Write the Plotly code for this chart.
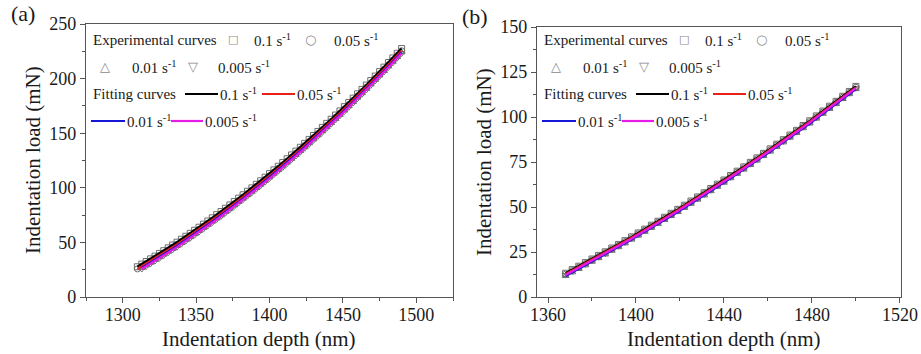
import plotly.graph_objects as go

# ---------------- data ----------------
RATES = ["0.1", "0.05", "0.01", "0.005"]

# panel (a)
DEPTH_A = [1310 + 3 * i for i in range(61)]
LOAD_A_01 = [27.7, 30.1, 32.5, 34.9, 37.4, 39.9, 42.4, 45.0, 47.6, 50.2,
             52.9, 55.6, 58.3, 61.1, 63.9, 66.7, 69.6, 72.5, 75.4, 78.3,
             81.3, 84.3, 87.4, 90.5, 93.6, 96.8, 99.9, 103.2, 106.4, 109.7,
             113.0,
             116.4, 119.7, 123.1, 126.6, 130.1, 133.6, 137.1, 140.7, 144.3, 147.9,
             151.6, 155.3, 159.0, 162.8, 166.6, 170.4, 174.3, 178.2, 182.1, 186.1,
             190.1, 194.1, 198.2, 202.3, 206.4, 210.5, 214.7, 218.9, 223.2, 227.5]
LOAD_A_005 = [25.7, 28.1, 30.5, 32.9, 35.4, 37.9, 40.4, 43.0, 45.6, 48.2,
              50.9, 53.6, 56.3, 59.1, 61.9, 64.7, 67.6, 70.5, 73.4, 76.3,
              79.3, 82.3, 85.4, 88.5, 91.6, 94.8, 97.9, 101.2, 104.4, 107.7,
              111.0,
              114.4, 117.7, 121.1, 124.6, 128.1, 131.6, 135.1, 138.7, 142.3, 145.9,
              149.6, 153.3, 157.0, 160.8, 164.6, 168.4, 172.3, 176.2, 180.1, 184.1,
              188.1, 192.1, 196.2, 200.3, 204.4, 208.5, 212.7, 216.9, 221.2, 225.5]
LOAD_A_001 = [26.6, 29.0, 31.4, 33.9, 36.4, 38.9, 41.5, 44.1, 46.7,
              49.4, 52.1, 54.8, 57.6, 60.4, 63.2, 66.1, 69.0, 71.9, 74.8,
              77.8, 80.8, 83.9, 87.0, 90.1, 93.3, 96.4, 99.7, 102.9, 106.2,
              109.5,
              112.9, 116.2, 119.6, 123.1, 126.6, 130.1, 133.6, 137.2, 140.8, 144.4,
              148.1, 151.8, 155.5, 159.3, 163.1, 166.9, 170.8, 174.7, 178.6, 182.6,
              186.6, 190.6, 194.7, 198.8, 202.9, 207.0, 211.2, 215.4, 219.7, 224.0]
LOAD_A_0005 = [25.6, 28.0, 30.4, 32.9, 35.4, 37.9, 40.5, 43.1, 45.7,
               48.4, 51.1, 53.8, 56.6, 59.4, 62.2, 65.1, 68.0, 70.9, 73.8,
               76.8, 79.8, 82.9, 86.0, 89.1, 92.3, 95.4, 98.7, 101.9, 105.2,
               108.5,
               111.9, 115.2, 118.6, 122.1, 125.6, 129.1, 132.6, 136.2, 139.8, 143.4,
               147.1, 150.8, 154.5, 158.3, 162.1, 165.9, 169.8, 173.7, 177.6, 181.6,
               185.6, 189.6, 193.7, 197.8, 201.9, 206.0, 210.2, 214.4, 218.7, 223.0]

# panel (b)
DEPTH_B = [1368 + 3 * i for i in range(45)]
LOAD_B_01 = [13.2, 15.2, 17.1, 19.1, 21.1, 23.1, 25.1, 27.2, 29.2, 31.3,
             33.4, 35.6, 37.7, 39.9, 42.1, 44.3, 46.5, 48.7, 51.0, 53.3,
             55.6, 57.9, 60.3, 62.7, 65.0, 67.5, 69.9, 72.3, 74.8, 77.3,
             79.8, 82.3, 84.9, 87.4, 90.0, 92.6, 95.3, 97.9, 100.6, 103.3,
             106.0, 108.7, 111.5, 114.2, 117.0]
LOAD_B_005 = [12.7, 14.7, 16.6, 18.6, 20.6, 22.6, 24.6, 26.7, 28.7, 30.8,
              32.9, 35.1, 37.2, 39.4, 41.6, 43.8, 46.0, 48.2, 50.5, 52.8,
              55.1, 57.4, 59.8, 62.2, 64.5, 67.0, 69.4, 71.8, 74.3, 76.8,
              79.3, 81.8, 84.4, 86.9, 89.5, 92.1, 94.8, 97.4, 100.1, 102.8,
              105.5, 108.2, 111.0, 113.7, 116.5]
LOAD_B_001 = [11.7, 13.7, 15.6, 17.6, 19.6, 21.6, 23.6, 25.7, 27.7, 29.8,
              31.9, 34.1, 36.2, 38.4, 40.6, 42.8, 45.0, 47.2, 49.5, 51.8,
              54.1, 56.4, 58.8, 61.2, 63.5, 66.0, 68.4, 70.8, 73.3, 75.8,
              78.3, 80.8, 83.4, 85.9, 88.5, 91.1, 93.8, 96.4, 99.1, 101.8,
              104.5, 107.2, 110.0, 112.7, 115.5]
LOAD_B_0005 = [12.2, 14.2, 16.1, 18.1, 20.1, 22.1, 24.1, 26.2, 28.2, 30.3,
               32.4, 34.6, 36.7, 38.9, 41.1, 43.3, 45.5, 47.7, 50.0, 52.3,
               54.6, 56.9, 59.3, 61.7, 64.0, 66.5, 68.9, 71.3, 73.8, 76.3,
               78.8, 81.3, 83.9, 86.4, 89.0, 91.6, 94.3, 96.9, 99.6, 102.3,
               105.0, 107.7, 110.5, 113.2, 116.0]

X_TICKS_A = [1300, 1350, 1400, 1450, 1500]
Y_TICKS_A = [0, 50, 100, 150, 200, 250]
X_TICKS_B = [1360, 1400, 1440, 1480, 1520]
Y_TICKS_B = [0, 25, 50, 75, 100, 125, 150]

# ---------------- styling ----------------
W, H = 921, 354
SERIF = "Liberation Serif"
TXT = "#1a1a1a"
AXC = "#555555"
MARKER_COL = "#6e6e6e"
SYMBOLS = ["square-open", "circle-open", "triangle-up-open", "triangle-down-open"]
LINE_COLS = ["#000000", "#e8201a", "#1616d8", "#e81ae8"]

panels = [
    ("x", "y", [(DEPTH_A, LOAD_A_01), (DEPTH_A, LOAD_A_005),
                (DEPTH_A[1:], LOAD_A_001), (DEPTH_A[1:], LOAD_A_0005)]),
    ("x2", "y2", [(DEPTH_B, LOAD_B_01), (DEPTH_B, LOAD_B_005),
                  (DEPTH_B, LOAD_B_001), (DEPTH_B, LOAD_B_0005)]),
]

fig = go.Figure()
for xa, ya, series in panels:
    for i, (xs, ys) in enumerate(series):
        fig.add_trace(go.Scatter(
            x=xs, y=ys, xaxis=xa, yaxis=ya, mode="markers",
            marker=dict(symbol=SYMBOLS[i], size=6, color=MARKER_COL,
                        line=dict(width=1, color=MARKER_COL)),
            showlegend=False, hoverinfo="skip"))
    for i, (xs, ys) in enumerate(series):
        fig.add_trace(go.Scatter(
            x=xs, y=ys, xaxis=xa, yaxis=ya, mode="lines",
            line=dict(color=LINE_COLS[i], width=2.2),
            showlegend=False, hoverinfo="skip"))


def px(xp):
    return xp / W


def py(yp):
    return 1 - yp / H


axis_common = dict(showgrid=False, zeroline=False, showline=True, linecolor=AXC,
                   linewidth=1.4, mirror=True, ticks="outside", ticklen=5,
                   tickwidth=1.2, tickcolor=AXC, automargin=False,
                   tickfont=dict(family=SERIF, size=18, color=TXT))

fig.update_layout(
    width=W, height=H, margin=dict(l=0, r=0, t=0, b=0, autoexpand=False),
    paper_bgcolor="white", plot_bgcolor="white", showlegend=False,
    xaxis=dict(domain=[px(86), px(453)], range=[1275, 1525], tickvals=X_TICKS_A,
               minor=dict(dtick=25, ticklen=3, tickcolor=AXC, ticks="outside"),
               anchor="y", ticklabelstandoff=-4, **axis_common),
    yaxis=dict(domain=[py(297), py(24)], range=[0, 250], tickvals=Y_TICKS_A,
               minor=dict(dtick=25, ticklen=3, tickcolor=AXC, ticks="outside"),
               anchor="x", **axis_common),
    xaxis2=dict(domain=[px(537), px(901)], range=[1355, 1520.5], tickvals=X_TICKS_B,
                minor=dict(dtick=20, ticklen=3, tickcolor=AXC, ticks="outside"),
                anchor="y2", ticklabelstandoff=-4, **axis_common),
    yaxis2=dict(domain=[py(297), py(27)], range=[0, 150], tickvals=Y_TICKS_B,
                minor=dict(dtick=12.5, ticklen=3, tickcolor=AXC, ticks="outside"),
                anchor="x2", **axis_common),
)

ann = []
shapes = []


def text(x, y, s, size=15, anchor="left", angle=0, family=SERIF, color=TXT):
    ann.append(dict(x=px(x), y=py(y), xref="paper", yref="paper", text=s,
                    showarrow=False, xanchor=anchor, yanchor="middle",
                    textangle=angle, font=dict(family=family, size=size, color=color)))


# panel labels and axis titles
text(23, 14, "(a)", size=22, anchor="center")
text(475, 17, "(b)", size=22, anchor="center")
text(259, 339, "Indentation depth (nm)", size=21, anchor="center")
text(724, 339, "Indentation depth (nm)", size=21, anchor="center")
text(33, 160, "Indentation load (mN)", size=21, anchor="center", angle=-90)
text(484, 162, "Indentation load (mN)", size=21, anchor="center", angle=-90)

GLYPHS = ["\u25a1", "\u25cb", "\u25b3", "\u25bd"]
GLYPH_SIZES = [11, 13, 13, 13]


def rate_label(r):
    return r + " s<sup>-1</sup>"


for ox in (86, 537):
    r1, r2, r3, r4 = 40, 67, 94, 121
    text(ox + 5, r1, "Experimental curves", size=15)
    text(ox + 147, r1, GLYPHS[0], size=GLYPH_SIZES[0], anchor="center",
         family="DejaVu Sans", color="#888888")
    text(ox + 166, r1, rate_label(RATES[0]), size=15)
    text(ox + 224, r1, GLYPHS[1], size=GLYPH_SIZES[1], anchor="center",
         family="DejaVu Sans", color="#888888")
    text(ox + 246, r1, rate_label(RATES[1]), size=15)
    text(ox + 19, r2, GLYPHS[2], size=GLYPH_SIZES[2], anchor="center",
         family="DejaVu Sans", color="#888888")
    text(ox + 44, r2, rate_label(RATES[2]), size=15)
    text(ox + 107, r2, GLYPHS[3], size=GLYPH_SIZES[3], anchor="center",
         family="DejaVu Sans", color="#888888")
    text(ox + 130, r2, rate_label(RATES[3]), size=15)
    text(ox + 5, r3, "Fitting curves", size=15)
    legend_lines = [(ox + 99, ox + 132, r3, 0, ox + 132),
                    (ox + 176, ox + 209, r3, 1, ox + 209),
                    (ox + 5, ox + 39, r4, 2, ox + 39),
                    (ox + 85, ox + 117, r4, 3, ox + 117)]
    for x0, x1, yy, idx, tx in legend_lines:
        shapes.append(dict(type="line", xref="paper", yref="paper",
                           x0=px(x0), x1=px(x1), y0=py(yy), y1=py(yy),
                           line=dict(color=LINE_COLS[idx], width=2.2)))
        text(tx, yy, rate_label(RATES[idx]), size=15)

fig.update_layout(annotations=ann, shapes=shapes)
fig.write_html("out.html", config={"displayModeBar": False},
               post_script="document.body.style.margin='0';"
                           "document.body.style.overflow='hidden';")
